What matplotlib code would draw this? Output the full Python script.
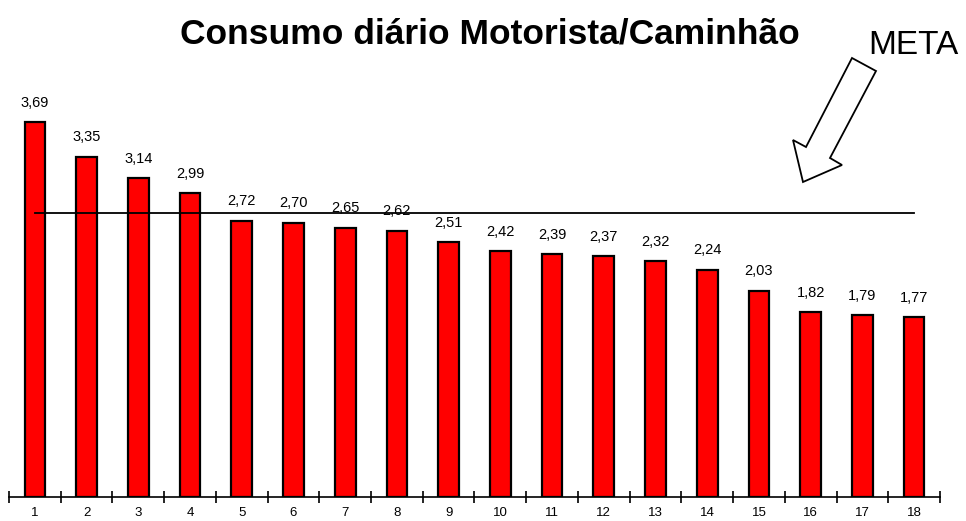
import matplotlib.pyplot as plt
from matplotlib.patches import Polygon

plt.rcParams['font.family'] = ['Liberation Sans', 'DejaVu Sans']

# dados do gráfico
motoristas = list(range(1, 19))
consumo = [3.69, 3.35, 3.14, 2.99, 2.72, 2.70, 2.65, 2.62, 2.51,
           2.42, 2.39, 2.37, 2.32, 2.24, 2.03, 1.82, 1.79, 1.77]
meta = [2.80] * len(motoristas)

W, H = 966, 521
fig = plt.figure(figsize=(W / 100, H / 100), dpi=100)
ax = fig.add_axes([9 / W, 24 / H, 931 / W, 457 / H])

ax.bar(motoristas, consumo, width=0.4, color='#ff0000', edgecolor='black', linewidth=1.6, zorder=2)
ax.plot(motoristas, meta, color='black', linewidth=1.3, zorder=3)

for x, v in zip(motoristas, consumo):
    ax.annotate(f'{v:.2f}'.replace('.', ','), (x, v), xytext=(0, 9), textcoords='offset points',
                ha='center', va='bottom', fontsize=10.5)

ax.set_xlim(0.5, 18.5)
ax.set_ylim(0, 4.5)
for s in ['left', 'right', 'top']:
    ax.spines[s].set_visible(False)
ax.spines['bottom'].set_linewidth(1.2)
ax.set_yticks([])

# ticks nas divisões, rótulos no centro das categorias
ax.set_xticks([m - 0.5 for m in motoristas] + [18.5])
ax.set_xticklabels([])
ax.tick_params(axis='x', which='major', direction='inout', length=9, width=1.2)
ax.set_xticks(motoristas, minor=True)
ax.set_xticklabels([str(m) for m in motoristas], minor=True, fontsize=9.5)
ax.tick_params(axis='x', which='minor', length=0, pad=7)

fig.text(490 / W, 1 - 34 / H, 'Consumo diário Motorista/Caminhão', ha='center', va='center',
         fontsize=25.5, fontweight='bold')
fig.text(913 / W, 1 - 46 / H, 'META', ha='center', va='center', fontsize=24)

# seta de bloco apontando para a linha de meta
seta_px = [(852, 58), (876, 71), (830, 158), (842, 165), (803, 182), (793, 140), (806, 147)]
seta = Polygon([(x / W, 1 - y / H) for x, y in seta_px], closed=True, facecolor='white',
               edgecolor='black', linewidth=1.3, transform=fig.transFigure)
fig.patches.append(seta)

fig.savefig('out.png', dpi=100)
